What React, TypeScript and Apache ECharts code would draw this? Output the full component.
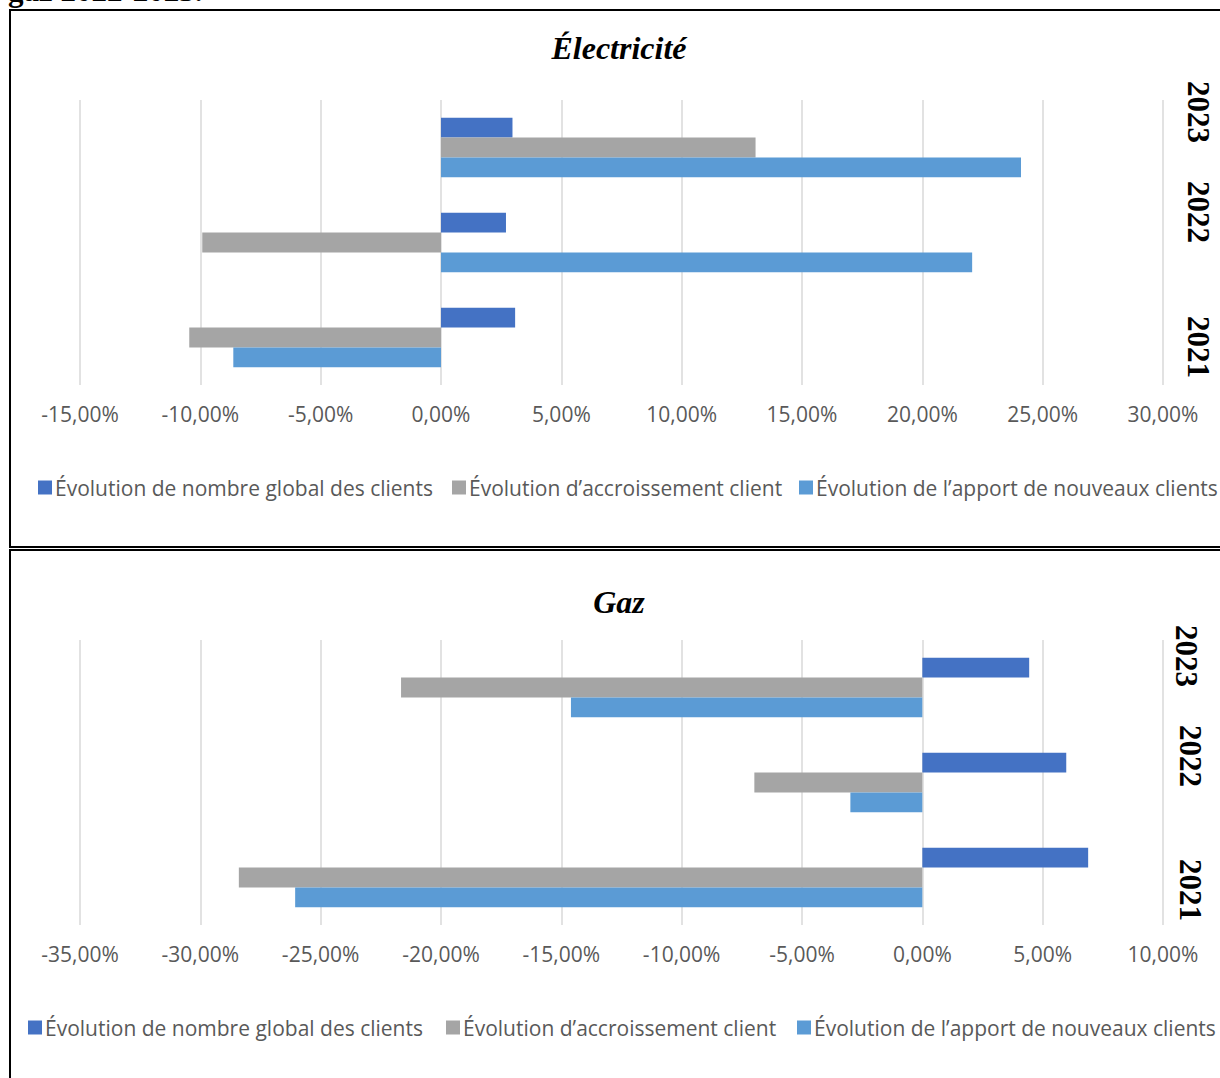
import React, { useEffect, useRef } from "react";
import * as echarts from "echarts";

// Category bands (bottom to top on the value chart)
const years = ["2021", "2022", "2023"];

// Series names
const seriesNames = [
  "Évolution de nombre global des clients",
  "Évolution d’accroissement client",
  "Évolution de l’apport de nouveaux clients",
];

// Électricité, in %
const elecGlobal = [3.08, 2.7, 2.97];
const elecAccroissement = [-10.46, -9.92, 13.07];
const elecApport = [-8.63, 22.07, 24.1];

// Gaz, in %
const gazGlobal = [6.89, 5.98, 4.44];
const gazAccroissement = [-28.4, -6.98, -21.66];
const gazApport = [-26.06, -2.99, -14.6];

// Axis ranges (in %)
const elecAxis = { min: -15, max: 30, interval: 5 };
const gazAxis = { min: -35, max: 10, interval: 5 };

const colors = ["#4472C4", "#A5A5A5", "#5B9BD5"];

const SANS = "Open Sans";
const SERIF = "Liberation Serif";
const labelColor = "#595959";

const fmtPct = (v: number) => v.toFixed(2).replace(".", ",") + "%";

export default function App() {
  const ref = useRef<HTMLDivElement>(null);

  useEffect(() => {
    if (!ref.current) return;
    const chart = echarts.init(ref.current, null, { renderer: "svg" });

    const grids = [
      { left: 80, width: 1083, top: 100, height: 285 },
      { left: 80, width: 1083, top: 640, height: 285 },
    ];

    const makeX = (gridIndex: number, ax: { min: number; max: number; interval: number }) => ({
      type: "value",
      gridIndex,
      min: ax.min,
      max: ax.max,
      interval: ax.interval,
      axisLine: { show: false },
      axisTick: { show: false },
      axisLabel: {
        formatter: fmtPct,
        color: labelColor,
        fontFamily: SANS,
        fontSize: 21,
        margin: 18,
      },
      splitLine: { show: true, lineStyle: { color: "#D9D9D9", width: 1.5 } },
    });

    const makeY = (gridIndex: number) => ({
      type: "category",
      gridIndex,
      data: years,
      axisLine: { show: false },
      axisTick: { show: false },
      axisLabel: { show: false },
      splitLine: { show: false },
    });

    const barCommon = {
      type: "bar",
      barGap: "0%",
      barCategoryGap: "37.5%",
    };

    const elecData = [elecGlobal, elecAccroissement, elecApport];
    const gazData = [gazGlobal, gazAccroissement, gazApport];

    const series: any[] = [];
    elecData.forEach((d, i) =>
      series.push({
        ...barCommon,
        name: seriesNames[i],
        xAxisIndex: 0,
        yAxisIndex: 0,
        data: d,
        itemStyle: { color: colors[i] },
      })
    );
    gazData.forEach((d, i) =>
      series.push({
        ...barCommon,
        name: seriesNames[i],
        xAxisIndex: 1,
        yAxisIndex: 1,
        data: d,
        itemStyle: { color: colors[i] },
      })
    );

    const legendItem = (name: string, left: number, top: number) => ({
      data: [name],
      left,
      top,
      itemWidth: 14,
      itemHeight: 14,
      itemGap: 0,
      padding: 0,
      icon: "rect",
      selectedMode: false,
      textStyle: { color: labelColor, fontFamily: SANS, fontSize: 21, padding: [0, 0, 0, -2] },
    });

    const yearLabel = (text: string, x: number, y: number) => ({
      type: "text",
      x,
      y,
      rotation: -Math.PI / 2,
      style: {
        text,
        fill: "#000",
        fontFamily: SERIF,
        fontWeight: "bold",
        fontSize: 31,
        align: "center",
        verticalAlign: "middle",
      },
    });

    const titleText = (text: string, x: number, y: number) => ({
      type: "text",
      x,
      y,
      style: {
        text,
        fill: "#000",
        fontFamily: SERIF,
        fontWeight: "bold",
        fontStyle: "italic",
        fontSize: 32,
        align: "center",
        verticalAlign: "middle",
      },
    });

    chart.setOption({
      animation: false,
      grid: grids,
      xAxis: [makeX(0, elecAxis), makeX(1, gazAxis)],
      yAxis: [makeY(0), makeY(1)],
      legend: [
        legendItem(seriesNames[0], 38, 477),
        legendItem(seriesNames[1], 452, 477),
        legendItem(seriesNames[2], 799, 477),
        legendItem(seriesNames[0], 28, 1017),
        legendItem(seriesNames[1], 446, 1017),
        legendItem(seriesNames[2], 797, 1017),
      ],
      graphic: [
        {
          type: "text",
          x: 8,
          y: 6,
          style: {
            text: "gaz 2022-2023.",
            fill: "#000",
            fontFamily: SERIF,
            fontWeight: "bold",
            fontSize: 31,
            verticalAlign: "bottom",
          },
        },
        {
          type: "rect",
          shape: { x: 10, y: 10, width: 1260, height: 537 },
          style: { fill: "none", stroke: "#000", lineWidth: 2 },
        },
        {
          type: "rect",
          shape: { x: 10, y: 550, width: 1260, height: 600 },
          style: { fill: "none", stroke: "#000", lineWidth: 2 },
        },
        titleText("Électricité", 619, 48),
        titleText("Gaz", 619, 602),
        yearLabel("2023", 1198, 112),
        yearLabel("2022", 1198, 212),
        yearLabel("2021", 1198, 347),
        yearLabel("2023", 1186, 656),
        yearLabel("2022", 1190, 756),
        yearLabel("2021", 1190, 890),
      ],
      series,
    });

    return () => chart.dispose();
  }, []);

  return (
    <div
      ref={ref}
      style={{ position: "absolute", left: 0, top: 0, width: 1220, height: 1078, background: "#fff" }}
    />
  );
}
